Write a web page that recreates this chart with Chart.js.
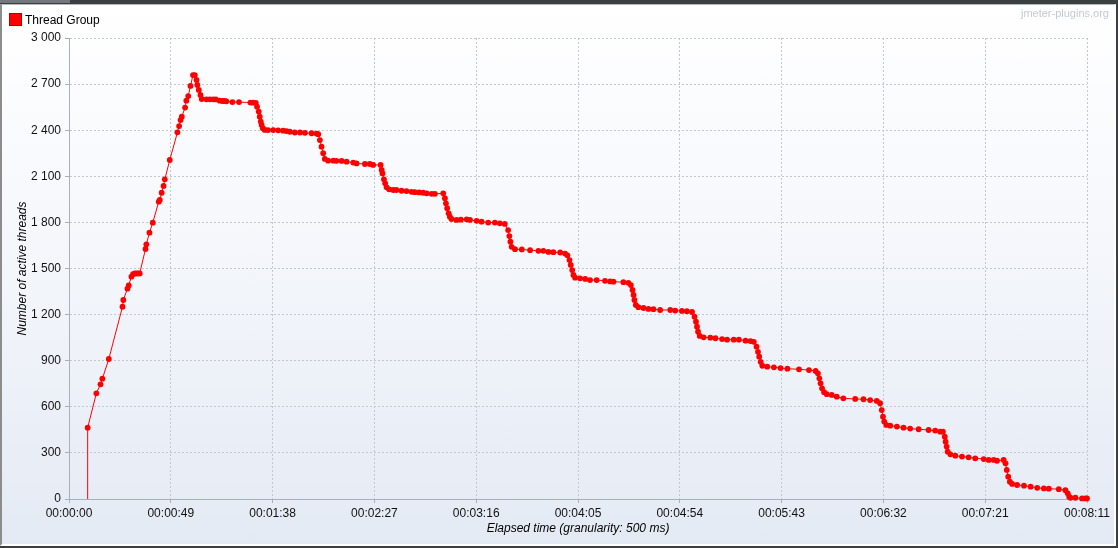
<!DOCTYPE html>
<html>
<head>
<meta charset="utf-8">
<script src="https://cdn.jsdelivr.net/npm/chart.js@4.4.1/dist/chart.umd.min.js"></script>
<style>
  html, body { margin: 0; padding: 0; }
  body { width: 1118px; height: 548px; background: #3c3f41; position: relative; overflow: hidden; font-family: 'Liberation Sans', Arial, sans-serif; }
  .tab { position: absolute; left: 0; top: 0; width: 70px; height: 3px; background: #74777b; }
  .panel { position: absolute; left: 0; top: 4px; width: 1112px; height: 539px;
    border-left: 2px solid #8c8c8c; border-top: 1px solid #b8b8b8; border-right: 2px solid #fff; border-bottom: 2px solid #fff;
    background: linear-gradient(to bottom, #ffffff 0%, #f6f8fc 40%, #e4eaf4 100%); }
  #wrap { position: absolute; left: 0; top: 0; width: 1118px; height: 548px; }
  .legend { position: absolute; left: 9px; top: 13px; font-size: 12px; color: #000; line-height: 14px; }
  .legend i { display: inline-block; width: 11px; height: 11px; background: #ff0000; border: 1px solid #b40000; vertical-align: -2px; margin-right: 3px; }
  .mark { position: absolute; right: 9px; top: 7px; font-size: 11px; color: #c6cacf; }
</style>
</head>
<body>
<div class="tab"></div>
<div class="panel"></div>
<div id="wrap"><canvas id="myChart" width="1118" height="548"></canvas></div>
<div class="legend"><i></i>Thread Group</div>
<div class="mark">jmeter-plugins.org</div>
<script>
const ctx = document.getElementById('myChart')

const seriesName = 'Thread Group'

// elapsed time in seconds
const elapsedSec = [
  9.0, 9.0, 13.2, 15.2, 16.1, 19.2, 25.8, 26.2, 28.2, 28.8, 30.1, 30.9, 31.7, 32.5, 33.3, 34.1,
  36.9, 37.3, 38.8, 40.4, 43.3, 43.8, 44.7, 45.6, 46.2, 48.6, 52.3, 53.1, 53.8, 54.4, 56.0, 56.6,
  57.5, 58.6, 59.8, 60.7, 61.5, 61.9, 62.6, 63.4, 64.0, 66.3, 67.9, 69.5, 70.8, 72.7, 74.0, 75.1,
  75.9, 78.8, 82.0, 87.5, 88.8, 90.1, 90.7, 91.5, 92.0, 92.5, 92.9, 93.5, 94.4, 96.0, 98.5, 100.9,
  103.3, 104.9, 106.5, 108.9, 111.4, 113.8, 117.0, 119.4, 120.2, 121.0, 121.8, 122.6, 123.4, 125.0,
  127.5, 129.0, 131.5, 133.9, 137.1, 138.7, 142.7, 145.1, 146.7, 150.3,
  150.8, 151.2, 151.9, 152.5, 153.2, 154.4, 156.4, 157.9, 160.4, 162.8, 165.2, 166.8, 168.9, 170.8,
  172.5, 174.9, 176.5, 180.5,
  181.3, 181.8, 182.4, 183.1, 183.7, 184.5, 186.9, 189.0, 191.8, 193.4, 196.6, 199.0, 202.2, 205.4,
  207.8, 210.2,
  211.8, 212.4, 212.9, 213.5, 215.1, 218.4, 222.4, 226.4, 228.8, 231.2, 233.6, 236.9, 239.3, 240.4,
  241.4, 242.0, 242.7, 243.3, 244.1, 246.5, 249.0, 251.3, 254.5, 258.5, 261.0, 262.6, 267.4, 269.8, 271.0,
  271.8, 272.3, 272.7, 273.4, 274.6, 277.1, 279.5, 281.9, 285.1, 290.0, 292.4, 295.6, 298.0, 300.5,
  301.7, 302.4, 302.9, 303.4, 304.2, 306.1, 309.3, 311.8, 315.0, 317.4, 320.6, 323.1, 326.3, 328.7, 330.3,
  331.6, 332.3, 332.9, 333.6, 334.4, 336.8, 340.0, 343.2, 346.5, 352.1, 356.9, 360.1, 361.2,
  361.9, 362.5, 363.2, 364.2, 365.5, 367.9, 370.3, 373.5, 379.2, 383.2, 386.4, 389.6, 391.2,
  392.0, 392.6, 393.2, 394.2, 396.1, 399.3, 402.5, 405.7, 409.8, 414.6, 417.8, 420.2, 421.5,
  422.4, 422.8, 423.3, 423.8, 425.1, 427.5, 430.7, 433.9, 437.1, 441.2, 443.6, 446.0, 447.6, 450.8, 451.7,
  452.3, 453.0, 453.8, 454.9, 457.3, 460.6, 463.8, 467.0, 470.2, 472.6, 477.4, 480.6, 481.7,
  482.4, 483.0, 485.4, 488.6, 490.2, 491.0
]

// active threads at each of those moments
const activeThreads = [
  0, 464, 688, 746, 783, 911, 1251, 1295, 1369, 1390, 1447, 1464, 1468, 1468, 1468, 1468,
  1627, 1657, 1733, 1798, 1935, 1946, 1993, 2037, 2080, 2206, 2386, 2427, 2466, 2488, 2547, 2592,
  2622, 2688, 2759, 2759, 2727, 2694, 2662, 2629, 2603, 2601, 2601, 2601, 2600, 2592, 2590, 2590,
  2588, 2583, 2583, 2580, 2579, 2578, 2553, 2521, 2488, 2456, 2434, 2413, 2402, 2401, 2401, 2399,
  2397, 2394, 2390, 2385, 2385, 2383, 2380, 2378, 2374, 2336, 2293, 2250, 2213, 2202,
  2202, 2201, 2200, 2195, 2189, 2184, 2180, 2180, 2174, 2174,
  2141, 2119, 2080, 2054, 2028, 2015, 2011, 2011, 2006, 2004, 1999, 1997, 1995, 1993,
  1989, 1986, 1986, 1989,
  1957, 1924, 1892, 1859, 1837, 1822, 1816, 1818, 1820, 1816, 1810, 1805, 1799, 1799,
  1794, 1790,
  1750, 1711, 1674, 1641, 1626, 1624, 1619, 1615, 1615, 1608, 1606, 1604, 1597, 1586,
  1555, 1523, 1490, 1458, 1440, 1436, 1432, 1425, 1425, 1420, 1416, 1414, 1411, 1407, 1392,
  1360, 1328, 1295, 1263, 1248, 1243, 1237, 1235, 1230, 1230, 1226, 1224, 1222, 1217,
  1186, 1154, 1121, 1089, 1061, 1052, 1050, 1046, 1041, 1037, 1037, 1037, 1030, 1028, 1023,
  991, 958, 926, 893, 867, 861, 857, 852, 848, 844, 839, 833, 818,
  785, 753, 720, 695, 682, 677, 666, 655, 651, 649, 644, 638, 623,
  579, 536, 504, 482, 477, 471, 464, 458, 454, 449, 445, 438, 438,
  405, 373, 341, 308, 291, 282, 276, 271, 265, 260, 254, 254, 249, 254, 232,
  189, 145, 113, 98, 91, 87, 80, 73, 69, 67, 64, 57, 37,
  15, 8, 8, 4, 4, 4
]

const xTickSec = [0, 49.1, 98.2, 147.3, 196.4, 245.5, 294.6, 343.7, 392.8, 441.9, 491]
const yTicks = [0, 300, 600, 900, 1200, 1500, 1800, 2100, 2400, 2700, 3000]

function fmtTime(sec) {
  let s = Math.floor(sec + 1e-6)
  const h = Math.floor(s / 3600)
  const m = Math.floor((s % 3600) / 60)
  s = s % 60
  const p = n => (n < 10 ? '0' : '') + n
  return p(h) + ':' + p(m) + ':' + p(s)
}

function fmtThousands(v) {
  return String(v).replace(/\B(?=(\d{3})+(?!\d))/g, ' ')
}

const points = elapsedSec.map((t, i) => ({ x: t, y: activeThreads[i] }))

Chart.defaults.font.family = "'Liberation Sans', Arial, sans-serif"
Chart.defaults.font.size = 12
Chart.defaults.color = '#000'

const gridColor = '#c4c8ce'
const axisColor = '#aab0b8'

new Chart(ctx, {
  type: 'line',
  data: {
    datasets: [
      {
        label: seriesName,
        data: points,
        borderColor: '#ff0000',
        backgroundColor: '#ff0000',
        borderWidth: 1,
        pointRadius: c => (c.dataIndex === 0 ? 0 : 2.9),
        pointBorderWidth: 0,
        pointBackgroundColor: '#ff0000',
        tension: 0,
        clip: false
      }
    ]
  },
  options: {
    responsive: false,
    devicePixelRatio: 1,
    animation: false,
    events: [],
    layout: { padding: { top: 38, right: 31, bottom: 0, left: 0 } },
    plugins: {
      legend: { display: false },
      tooltip: { enabled: false }
    },
    scales: {
      x: {
        type: 'linear',
        min: 0,
        max: 491,
        afterBuildTicks: s => { s.ticks = xTickSec.map(v => ({ value: v })) },
        afterFit: s => { s.height = 49 },
        ticks: {
          autoSkip: false,
          maxRotation: 0,
          padding: 3,
          color: '#111',
          callback: v => fmtTime(v)
        },
        grid: { color: gridColor, tickColor: axisColor, tickLength: 4 },
        border: { color: axisColor, width: 1, dash: [2, 2] },
        title: {
          display: true,
          text: 'Elapsed time (granularity: 500 ms)',
          color: '#000',
          font: { style: 'italic', size: 12 },
          padding: { top: 0, bottom: 12 }
        }
      },
      y: {
        min: 0,
        max: 3000,
        afterBuildTicks: s => { s.ticks = yTicks.map(v => ({ value: v })) },
        afterFit: s => { s.width = 69 },
        ticks: {
          padding: 4,
          color: '#111',
          callback: v => fmtThousands(v)
        },
        grid: { color: gridColor, tickColor: axisColor, tickLength: 4 },
        border: { color: axisColor, width: 1, dash: [2, 2] },
        title: {
          display: true,
          text: 'Number of active threads',
          color: '#000',
          font: { style: 'italic', size: 12 },
          padding: { top: 15, bottom: 0 }
        }
      }
    }
  }
})
</script>
</body>
</html>
